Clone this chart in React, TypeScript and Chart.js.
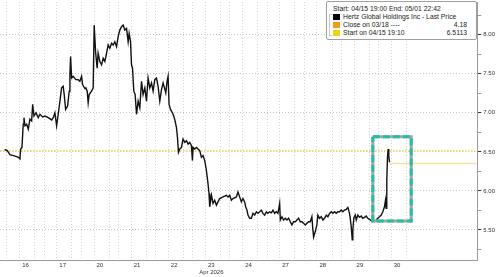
import React, { useEffect, useRef } from 'react';
import { Chart, registerables } from 'chart.js';

Chart.register(...registerables);

// x positions are in trading-day units: 0 = 04/16 04:00, each session 04:00-20:00 spans 1 unit
const priceX = [
  -0.062, 0.008, 0.081, 0.169, 0.261, 0.304, 0.349, 0.368, 0.403, 0.438, 0.457, 0.484, 0.530, 0.573, 0.618,
  0.664, 0.691, 0.726, 0.780, 0.841, 0.887, 0.960, 1.022, 1.110, 1.202, 1.245, 1.290, 1.336, 1.379, 1.425,
  1.470, 1.513, 1.540, 1.578, 1.632, 1.675, 1.694, 1.712, 1.739, 1.782, 1.855, 1.917, 1.962, 2.008, 2.035,
  2.097, 2.124, 2.159, 2.185, 2.212, 2.277, 2.320, 2.347, 2.384, 2.427, 2.454, 2.500, 2.546, 2.589, 2.634,
  2.680, 2.723, 2.769, 2.815, 2.858, 2.903, 2.949, 2.992, 3.038, 3.083, 3.126, 3.172, 3.218, 3.261, 3.288,
  3.325, 3.352, 3.379, 3.414, 3.449, 3.487, 3.530, 3.575, 3.621, 3.664, 3.710, 3.755, 3.798, 3.844, 3.890,
  3.933, 3.978, 4.024, 4.067, 4.113, 4.159, 4.202, 4.239, 4.274, 4.309, 4.336, 4.363, 4.401, 4.454, 4.489,
  4.524, 4.562, 4.589, 4.616, 4.651, 4.696, 4.739, 4.785, 4.831, 4.874, 4.919, 4.965, 4.992, 5.008, 5.054,
  5.099, 5.142, 5.188, 5.234, 5.277, 5.323, 5.368, 5.411, 5.438, 5.457, 5.503, 5.546, 5.591, 5.637, 5.680,
  5.726, 5.815, 5.906, 5.949, 5.995, 6.040, 6.083, 6.175, 6.218, 6.263, 6.309, 6.352, 6.398, 6.425, 6.460,
  6.487, 6.532, 6.578, 6.621, 6.667, 6.712, 6.755, 6.801, 6.847, 6.890, 6.935, 6.981, 7.024, 7.070, 7.116,
  7.159, 7.204, 7.250, 7.293, 7.339, 7.358, 7.401, 7.446, 7.492, 7.535, 7.581, 7.626, 7.669, 7.715, 7.761,
  7.804, 7.849, 7.895, 7.938, 7.984, 8.030, 8.073, 8.118, 8.164, 8.207, 8.234, 8.253, 8.298, 8.341, 8.368,
  8.414, 8.460, 8.503, 8.548, 8.594, 8.637, 8.683, 8.728, 8.771, 8.817, 8.863, 8.906, 8.952, 8.997, 9.040,
  9.086, 9.132, 9.175, 9.220, 9.239, 9.266, 9.293, 9.309, 9.336, 9.374, 9.401, 9.444, 9.489, 9.535, 9.578,
  9.624, 9.669, 9.712, 9.758, 9.804, 9.847, 9.892, 9.938, 9.981, 10.027, 10.073, 10.116, 10.161, 10.188, 10.207,
  10.223, 10.242, 10.261, 10.277, 10.296,
];

const priceY = [
  6.53, 6.515, 6.465, 6.452, 6.439, 6.430, 6.410, 6.537, 6.557, 6.854, 6.938, 6.833, 6.854, 6.791, 6.918,
  6.896, 7.108, 6.959, 7.001, 6.938, 6.981, 6.947, 6.959, 6.938, 6.909, 6.938, 7.001, 6.833, 6.981, 7.150,
  7.319, 7.340, 7.235, 7.044, 7.086, 7.277, 7.489, 7.721, 7.445, 7.467, 7.425, 7.425, 7.404, 7.467, 7.362,
  7.311, 7.319, 7.277, 7.128, 7.235, 7.277, 7.319, 8.123, 7.784, 7.572, 7.763, 7.657, 7.615, 7.699, 7.657,
  7.763, 7.869, 7.826, 7.890, 7.869, 7.911, 7.848, 7.975, 8.060, 8.102, 8.123, 8.060, 8.080, 7.911, 8.016,
  7.911, 7.615, 7.572, 7.277, 7.235, 6.981, 7.150, 7.065, 7.404, 7.235, 7.319, 7.150, 7.445, 7.319, 7.382,
  7.277, 7.425, 7.445, 7.340, 7.150, 7.298, 7.382, 7.319, 7.255, 7.404, 7.467, 7.108, 7.044, 7.001, 6.959,
  6.896, 6.811, 6.684, 6.494, 6.537, 6.557, 6.664, 6.621, 6.642, 6.600, 6.621, 6.579, 6.388, 6.557, 6.537,
  6.557, 6.537, 6.515, 6.430, 6.452, 6.388, 6.261, 6.093, 5.966, 5.796, 5.944, 5.839, 5.881, 5.817, 5.859,
  5.902, 5.923, 5.944, 5.923, 5.944, 5.881, 5.902, 5.923, 5.986, 5.923, 5.859, 5.902, 5.859, 5.796, 5.754,
  5.690, 5.649, 5.649, 5.712, 5.690, 5.732, 5.712, 5.732, 5.754, 5.712, 5.690, 5.732, 5.712, 5.732, 5.720,
  5.754, 5.712, 5.732, 5.712, 5.839, 5.627, 5.669, 5.627, 5.649, 5.627, 5.649, 5.605, 5.564, 5.605, 5.605,
  5.627, 5.649, 5.605, 5.605, 5.585, 5.564, 5.585, 5.605, 5.605, 5.669, 5.500, 5.407, 5.479, 5.564, 5.690,
  5.649, 5.669, 5.627, 5.649, 5.690, 5.669, 5.712, 5.732, 5.712, 5.732, 5.712, 5.732, 5.732, 5.754, 5.732,
  5.754, 5.763, 5.788, 5.712, 5.649, 5.542, 5.373, 5.500, 5.649, 5.690, 5.627, 5.690, 5.661, 5.678, 5.649,
  5.661, 5.678, 5.649, 5.636, 5.618, 5.618, 5.605, 5.627, 5.649, 5.669, 5.690, 5.732, 5.796, 5.881, 5.776,
  6.135, 6.430, 6.537, 6.452, 6.367,
];

const dayLabels = ['16', '17', '20', '21', '22', '23', '24', '27', '28', '29', '30'];
const monthLabel = 'Apr 2026';
const monthLabelDay = 5;
const sessionHours = [4, 9.5, 16]; // pre-market, open, close
const sessionStart = 4;
const sessionLength = 16;

const yMajorTicks = [5.5, 6.0, 6.5, 7.0, 7.5, 8.0];
const yMinorTicks = [5.25, 5.75, 6.25, 6.75, 7.25, 7.75, 8.25];

const startLevel = 6.5113;
const lastLevel = 6.35;
const lastLevelFrom = 10.296;

const boxX = [9.847, 10.88];
const boxY = [5.614, 6.693];

const xRange = [-0.188, 12.66];
const yRange = [5.107, 8.419];

const legendHeader = 'Start: 04/15 19:00 End: 05/01 22:42';
const legendNames = ['Hertz Global Holdings Inc - Last Price', 'Close on 03/18 ----', 'Start on 04/15 19:10'];
const legendValues = ['', '4.18', '6.5113'];
const legendColors = ['#000000', '#f29b1d', '#f2d21b'];

const isCenter = (v: number) => Math.abs(v - Math.floor(v) - 0.5) < 1e-6;
const isMajorY = (v: number) => yMajorTicks.some((m) => Math.abs(m - v) < 1e-6);

export default function App() {
  const ref = useRef<HTMLCanvasElement | null>(null);

  useEffect(() => {
    if (!ref.current) return;
    const xTicks: number[] = [];
    dayLabels.forEach((_, d) => {
      sessionHours.forEach((h) => xTicks.push(d + (h - sessionStart) / sessionLength));
      xTicks.push(d + 0.5);
    });
    xTicks.sort((a, b) => a - b);
    const yTicks = [...yMajorTicks, ...yMinorTicks].sort((a, b) => a - b);

    const price = priceX.map((x, i) => ({ x, y: priceY[i] }));
    const box = [
      { x: boxX[0], y: boxY[1] },
      { x: boxX[1], y: boxY[1] },
      { x: boxX[1], y: boxY[0] },
      { x: boxX[0], y: boxY[0] },
      { x: boxX[0], y: boxY[1] },
    ];

    const font = { family: 'Liberation Sans', size: 6 };

    const chart = new Chart(ref.current, {
      type: 'line',
      data: {
        datasets: [
          {
            data: box,
            borderColor: '#22bfa5',
            borderWidth: 3,
            borderDash: [7, 3],
            pointRadius: 0,
            fill: false,
            order: 0,
          },
          {
            data: box,
            borderColor: '#a5a5a5',
            borderWidth: 3,
            pointRadius: 0,
            fill: false,
            order: 1,
          },
          {
            data: price,
            borderColor: '#111111',
            borderWidth: 1.4,
            pointRadius: 0,
            tension: 0,
            fill: false,
            order: 2,
          },
          {
            data: [
              { x: lastLevelFrom, y: lastLevel },
              { x: xRange[1], y: lastLevel },
            ],
            borderColor: '#f3e3a0',
            borderWidth: 1.5,
            pointRadius: 0,
            order: 3,
          },
          {
            data: [
              { x: xRange[0], y: startLevel },
              { x: xRange[1], y: startLevel },
            ],
            borderColor: '#eedb6c',
            borderWidth: 1.3,
            borderDash: [2, 1],
            pointRadius: 0,
            order: 4,
          },
        ],
      },
      options: {
        responsive: false,
        animation: false,
        events: [],
        layout: { padding: { left: 0, right: 3, top: 0, bottom: 0 } },
        plugins: { legend: { display: false }, tooltip: { enabled: false } },
        scales: {
          x: {
            type: 'linear',
            min: xRange[0],
            max: xRange[1],
            afterBuildTicks: (axis: any) => {
              axis.ticks = xTicks.map((value) => ({ value }));
            },
            ticks: {
              autoSkip: false,
              maxRotation: 0,
              minRotation: 0,
              padding: 1,
              color: '#333',
              font,
              callback: (value: any) => {
                const v = Number(value);
                if (!isCenter(v)) return '';
                const d = Math.floor(v);
                return d === monthLabelDay ? [dayLabels[d], monthLabel] : dayLabels[d];
              },
            },
            grid: {
              drawTicks: false,
              color: (ctx: any) => (ctx.tick && isCenter(ctx.tick.value) ? 'rgba(0,0,0,0)' : '#d4d4d4'),
              lineWidth: 1,
            },
            border: { display: true, color: '#9a9a9a', width: 1, dash: [1, 2] },
          },
          y: {
            type: 'linear',
            position: 'right',
            min: yRange[0],
            max: yRange[1],
            afterBuildTicks: (axis: any) => {
              axis.ticks = yTicks.map((value) => ({ value }));
            },
            ticks: {
              padding: 2,
              color: '#333',
              font: (ctx: any) => ({
                family: 'Liberation Sans',
                size: 6,
                lineHeight: ctx.tick && isMajorY(ctx.tick.value) ? 1.2 : 0.01,
              }),
              callback: (value: any) => {
                const v = Number(value);
                return isMajorY(v) ? v.toFixed(2) : '';
              },
            },
            grid: {
              drawTicks: true,
              tickLength: 4,
              color: (ctx: any) => (ctx.tick && isMajorY(ctx.tick.value) ? '#c4c4c4' : 'rgba(0,0,0,0)'),
              tickColor: (ctx: any) => (ctx.tick && isMajorY(ctx.tick.value) ? '#333' : '#999'),
              tickBorderDash: [],
              lineWidth: 1,
            },
            border: { display: true, color: '#9a9a9a', width: 1, dash: [1, 2] },
          },
        },
      },
    });
    return () => chart.destroy();
  }, []);

  const rowTop = (i: number) => 3 + i * 7.9;

  return (
    <div style={{ position: 'absolute', left: 0, top: 0, width: 500, height: 277, background: '#fff' }}>
      <canvas ref={ref} width={500} height={277} style={{ width: 500, height: 277, display: 'block' }} />
      <div
        style={{
          position: 'absolute',
          left: 326,
          top: 1,
          width: 149,
          height: 37,
          border: '1px solid #a0a0a0',
          borderRadius: 2,
          background: '#fff',
          fontFamily: 'Liberation Sans',
          fontSize: 6.8,
          color: '#222',
          lineHeight: '8px',
        }}
      >
        <div style={{ position: 'absolute', left: 6, top: rowTop(0), whiteSpace: 'nowrap' }}>{legendHeader}</div>
        <div
          style={{
            position: 'absolute',
            left: 2,
            top: rowTop(1) + 1,
            width: 2,
            height: 20,
            borderLeft: '1px solid #c8c8c8',
            borderTop: '1px solid #c8c8c8',
            borderBottom: '1px solid #c8c8c8',
          }}
        />
        {legendNames.map((name, i) => (
          <React.Fragment key={name}>
            <div
              style={{
                position: 'absolute',
                left: 6,
                top: rowTop(i + 1) + 0.8,
                width: 6.5,
                height: 6.5,
                background: legendColors[i],
              }}
            />
            <div style={{ position: 'absolute', left: 16, top: rowTop(i + 1), whiteSpace: 'nowrap' }}>{name}</div>
            {legendValues[i] ? (
              <div style={{ position: 'absolute', right: 9, top: rowTop(i + 1), whiteSpace: 'nowrap' }}>
                {legendValues[i]}
              </div>
            ) : null}
          </React.Fragment>
        ))}
      </div>
    </div>
  );
}
